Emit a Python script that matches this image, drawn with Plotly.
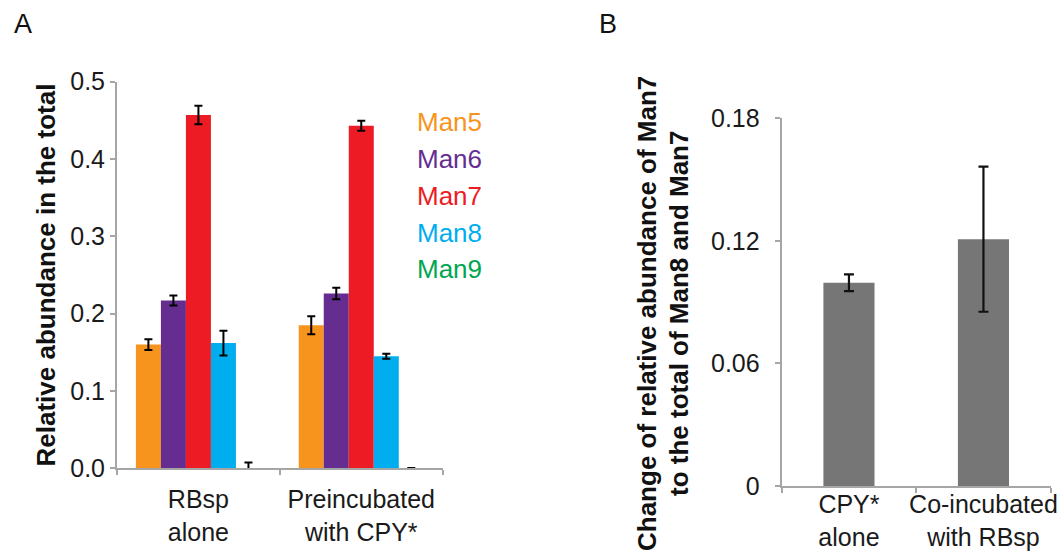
import plotly.graph_objects as go

# ---------------- data ----------------
categories_a = ["RBsp<br>alone", "Preincubated<br>with CPY*"]
series_names = ["Man5", "Man6", "Man7", "Man8", "Man9"]
man5 = [0.160, 0.185]
man5_err = [0.007, 0.0115]
man6 = [0.217, 0.226]
man6_err = [0.0065, 0.0075]
man7 = [0.457, 0.443]
man7_err = [0.012, 0.0065]
man8 = [0.162, 0.145]
man8_err = [0.016, 0.0033]
man9 = [0.0, 0.0]
man9_err = [0.0075, 0.0003]
series_colors = ["#F7941D", "#662D91", "#ED1C24", "#00AEEF", "#00A651"]

yticks_a = [0.0, 0.1, 0.2, 0.3, 0.4, 0.5]

categories_b = ["CPY*<br>alone", "Co-incubated<br>with RBsp"]
change_b = [0.0995, 0.1208]
change_b_err = [0.0041, 0.0355]
yticks_b = [0, 0.06, 0.12, 0.18]
yticklabels_b = ["0", "0.06", "0.12", "0.18"]

# ---------------- layout helpers ----------------
W, H = 1064, 557
FONT = "Liberation Sans, Arial, sans-serif"
AXIS_GRAY = "#A6A6A6"

def px_x(p):
    return p / W

def px_y(p):
    return (H - p) / H

fig = go.Figure()

values = [man5, man6, man7, man8, man9]
errors = [man5_err, man6_err, man7_err, man8_err, man9_err]
n = len(series_names)
bw = 0.1536
start = -bw * n / 2
for i, (name, vals, errs, col) in enumerate(zip(series_names, values, errors, series_colors)):
    fig.add_trace(go.Bar(
        x=categories_a, y=vals, name=name,
        marker=dict(color=col, line=dict(width=0)),
        width=bw, offset=start + i * bw,
        error_y=dict(type="data", array=errs, color="#000000", thickness=2, width=4, visible=True),
        xaxis="x", yaxis="y", showlegend=False,
    ))

fig.add_trace(go.Bar(
    x=categories_b, y=change_b,
    marker=dict(color="#767676", line=dict(width=0)),
    width=0.38,
    error_y=dict(type="data", array=change_b_err, color="#111111", thickness=2.2, width=5, visible=True),
    xaxis="x2", yaxis="y2", showlegend=False,
))

tickfont = dict(family=FONT, size=25, color="#1a1a1a")

axis_common = dict(
    showline=True, linecolor=AXIS_GRAY, linewidth=2,
    ticks="outside", tickcolor=AXIS_GRAY, tickwidth=2, ticklen=5,
    showgrid=False, zeroline=False, tickfont=tickfont,
    automargin=False, tickangle=0,
)

fig.update_layout(
    template="none",
    width=W, height=H,
    margin=dict(l=0, r=0, t=0, b=0, pad=0),
    paper_bgcolor="white", plot_bgcolor="white",
    barmode="overlay",
    xaxis=dict(domain=[px_x(117), px_x(442.7)], anchor="y", type="category",
               range=[-0.5, 1.5], tickson="boundaries", ticklabelstandoff=8, **axis_common),
    yaxis=dict(domain=[px_y(468.3), px_y(81.7)], anchor="x", range=[0, 0.5],
               tickvals=yticks_a, tickformat=".1f", **axis_common),
    xaxis2=dict(domain=[px_x(781.7), px_x(1050.7)], anchor="y2", type="category",
                range=[-0.5, 1.5], tickson="boundaries", ticklabelstandoff=-5, **axis_common),
    yaxis2=dict(domain=[px_y(486), px_y(118.3)], anchor="x2", range=[0, 0.18],
                tickvals=yticks_b, ticktext=yticklabels_b, ticklabelstandoff=10, **axis_common),
)

ann = []
# panel letters
ann.append(dict(text="A", x=px_x(22.5), y=px_y(24), xref="paper", yref="paper",
                showarrow=False, xanchor="center", yanchor="middle",
                font=dict(family=FONT, size=27, color="#111111")))
ann.append(dict(text="B", x=px_x(608), y=px_y(24), xref="paper", yref="paper",
                showarrow=False, xanchor="center", yanchor="middle",
                font=dict(family=FONT, size=27, color="#111111")))
# legend texts
leg_y = [121.7, 159, 196, 232.7, 269]
for name, col, yy in zip(series_names, series_colors, leg_y):
    ann.append(dict(text=name, x=px_x(415), y=px_y(yy), xref="paper", yref="paper",
                    showarrow=False, xanchor="left", yanchor="middle",
                    font=dict(family=FONT, size=26, color=col)))
# y-axis titles
ann.append(dict(text="<b>Relative abundance in the total</b>", x=px_x(45.5), y=px_y(275),
                xref="paper", yref="paper", showarrow=False, textangle=-90,
                xanchor="center", yanchor="middle",
                font=dict(family=FONT, size=26, color="#111111")))
ann.append(dict(text="<b>Change of relative abundance of Man7</b>", x=px_x(647), y=px_y(314),
                xref="paper", yref="paper", showarrow=False, textangle=-90,
                xanchor="center", yanchor="middle",
                font=dict(family=FONT, size=26, color="#111111")))
ann.append(dict(text="<b>to the total of Man8 and Man7</b>", x=px_x(679), y=px_y(314),
                xref="paper", yref="paper", showarrow=False, textangle=-90,
                xanchor="center", yanchor="middle",
                font=dict(family=FONT, size=26, color="#111111")))
fig.update_layout(annotations=ann)

fig.write_html("out.html", config={"displayModeBar": False},
               post_script="document.body.style.margin='0';document.body.style.overflow='hidden';")
